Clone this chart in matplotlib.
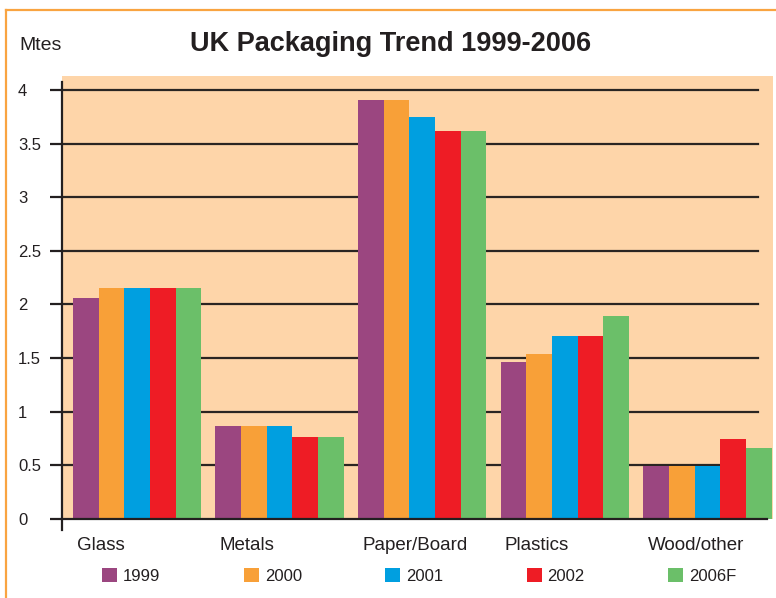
import numpy as np
import matplotlib.pyplot as plt
from matplotlib.lines import Line2D

plt.rcParams['font.family'] = ['Liberation Sans', 'DejaVu Sans']

# UK packaging by material, million tonnes
materials = ['Glass', 'Metals', 'Paper/Board', 'Plastics', 'Wood/other']
years = ['1999', '2000', '2001', '2002', '2006F']
y1999 = [2.06, 0.87, 3.91, 1.46, 0.49]
y2000 = [2.15, 0.87, 3.91, 1.54, 0.49]
y2001 = [2.15, 0.87, 3.75, 1.71, 0.49]
y2002 = [2.15, 0.76, 3.62, 1.71, 0.75]
y2006f = [2.15, 0.76, 3.62, 1.89, 0.66]
series = [y1999, y2000, y2001, y2002, y2006f]
colors = ['#9B4680', '#F8A038', '#009FE0', '#EE1C25', '#6BBF69']
yticks = np.arange(0, 4.01, 0.5)

ink = '#231F20'
W, H = 776, 598
fig = plt.figure(figsize=(W / 100, H / 100), dpi=100)
ax = fig.add_axes([62 / W, 79 / H, 711 / W, 443 / H])
ax.set_facecolor('#FED5A9')

x = np.arange(len(materials))
bw = 0.18
bars = []
for i, (vals, c, lab) in enumerate(zip(series, colors, years)):
    b = ax.bar(x + (i - 2) * bw, vals, bw, color=c, label=lab, zorder=3,
               linewidth=0)
    bars.append(b)

ax.set_xlim(-0.526, -0.526 + 711 / 142.6)
ax.set_ylim(0, 4.13)

# horizontal rules
for t in yticks[1:]:
    ax.axhline(t, xmin=0, xmax=0.979, color='#2A2522', lw=1.6, zorder=1)

for s in ['top', 'right']:
    ax.spines[s].set_visible(False)
ax.spines['left'].set_bounds(-0.10, 4.075)
ax.spines['left'].set_linewidth(1.6)
ax.spines['left'].set_color(ink)
ax.spines['bottom'].set_bounds(-0.526, -0.526 + 705 / 142.6)
ax.spines['bottom'].set_linewidth(1.6)
ax.spines['bottom'].set_color(ink)
ax.spines['bottom'].set_zorder(4)

ax.set_yticks(yticks)
ax.set_yticklabels([f'{t:g}' for t in yticks], ha='left')
ax.tick_params(axis='y', length=8.6, width=1.6, color=ink, pad=23,
               labelsize=12, labelcolor=ink)

ax.set_xticks(x - 2.5 * bw + 0.03)
ax.set_xticklabels(materials, ha='left')
ax.tick_params(axis='x', length=0, pad=13, labelsize=13.5, labelcolor=ink)

fig.text(0.503, 1 - 44 / H, 'UK Packaging Trend 1999-2006', ha='center',
         va='center', fontsize=19.5, fontweight='bold', color=ink)
fig.text(19 / W, 1 - 46 / H, 'Mtes', ha='left', va='center', fontsize=14,
         color=ink)

fig.legend(handles=bars, loc='center left', ncol=5,
           bbox_to_anchor=(102 / W, 1 - 576 / H), frameon=False,
           fontsize=12, handlelength=0.9, handleheight=0.9,
           handletextpad=0.36, columnspacing=5.0, borderpad=0,
           borderaxespad=0, labelcolor=ink)

# orange page border
border = '#F9A441'
fig.add_artist(Line2D([6 / W, 6 / W], [0, 1 - 10 / H], color=border, lw=1.6,
                      transform=fig.transFigure))
fig.add_artist(Line2D([6 / W, 1], [1 - 10 / H, 1 - 10 / H], color=border,
                      lw=1.6, transform=fig.transFigure))

fig.savefig('out.png', dpi=100)
